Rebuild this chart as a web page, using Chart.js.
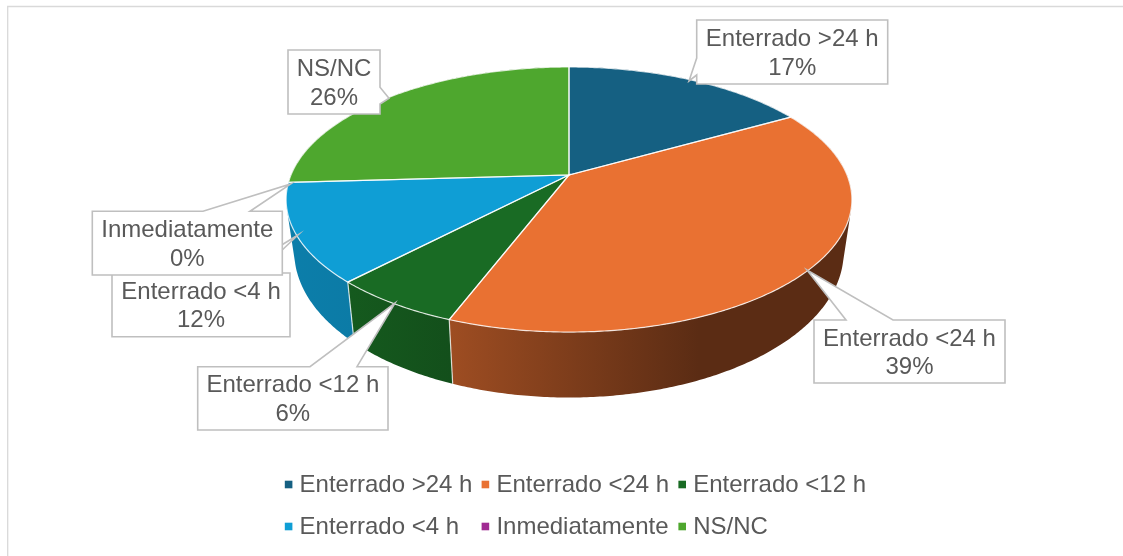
<!DOCTYPE html>
<html><head><meta charset="utf-8">
<style>html,body{margin:0;padding:0;background:#fff}canvas{display:block}</style>
<script src="https://cdn.jsdelivr.net/npm/chart.js@4"></script>
</head><body>
<canvas id="c" width="1123" height="556"></canvas>
<script>
const categories = ['Enterrado >24 h','Enterrado <24 h','Enterrado <12 h','Enterrado <4 h','Inmediatamente','NS/NC'];
const shares = [16.8,39,6.3,12,0,25.9];
const percentLabels = ['17%','39%','6%','12%','0%','26%'];
const sliceColors = ['#156082','#E97132','#196B24','#0F9ED5','#A02B93','#4EA72E'];

// wall shading: [brightness at left, brightness at right, fraction of width where the end is reached]
const wallShade = [[.6,.6,1],[.68,.39,.62],[.84,.74,1],[.8,.78,1],[.7,.7,1],[.7,.7,1]];
const textColor = '#595959', calloutLine = '#BFBFBF';
const FONT = '24px "Liberation Sans", Arial, sans-serif';

// perspective of the tilted disc
const TILT_K = 0.185;
const TOP = {scale:1, ry:128, dy:0};
const BOTTOM = {scale:0.971, ry:140.6, dy:50};
function proj(el, a, f){
  const u=Math.cos(a), v=Math.sin(a), w=1-TILT_K*v;
  return [el.x + el.outerRadius*f.scale*u/w, el.y + f.dy + f.ry*v/w];
}
function arcPts(el, a0, a1, f){
  const n=Math.max(2,Math.ceil(Math.abs(a1-a0)/0.01)), out=[];
  for(let i=0;i<=n;i++) out.push(proj(el,a0+(a1-a0)*i/n,f));
  return out;
}
function poly(ctx, pts, close){
  ctx.beginPath();
  pts.forEach((p,i)=> i?ctx.lineTo(p[0],p[1]):ctx.moveTo(p[0],p[1]));
  if(close) ctx.closePath();
}
function shade(hex,s){
  const n=parseInt(hex.slice(1),16);
  return `rgb(${Math.round((n>>16&255)*s)},${Math.round((n>>8&255)*s)},${Math.round((n&255)*s)})`;
}

// callout boxes [x0,y0,x1,y1] and their pointers, in data order
const callouts = [
  {box:[696.7,20,887.7,84],  ptr:[[696.7,58],[689,81],[696.7,75]]},
  {box:[814,320,1005,383],   ptr:[[846,320],[807,270],[893,320]]},
  {box:[197.7,366.7,388,430],ptr:[[310,366.7],[395,303],[357,366.7]]},
  {box:[112,273,290,336.7],  ptr:[[236,273],[298,235],[258,273]]},
  {box:[92.3,211.3,282.3,275],ptr:[[203,211.3],[290.7,184],[250,211.3]]},
  {box:[288,50,380,114],     ptr:[[380,87.3],[389,98.3],[380,104]]}
];
function calloutPath(ctx,c){
  const [x0,y0,x1,y1]=c.box,[p,t,q]=c.ptr;
  ctx.beginPath();
  ctx.moveTo(x0,y0);
  if(p[1]===y0){ctx.lineTo(p[0],p[1]);ctx.lineTo(t[0],t[1]);ctx.lineTo(q[0],q[1]);}
  ctx.lineTo(x1,y0);
  if(p[0]===x1&&p[1]!==y0){ctx.lineTo(p[0],p[1]);ctx.lineTo(t[0],t[1]);ctx.lineTo(q[0],q[1]);}
  ctx.lineTo(x1,y1);ctx.lineTo(x0,y1);
  if(p[0]===x0&&p[1]!==y0){ctx.lineTo(q[0],q[1]);ctx.lineTo(t[0],t[1]);ctx.lineTo(p[0],p[1]);}
  ctx.closePath();
}

const pieFrame = {
  id:'pieFrame',
  beforeDraw(chart){
    const ctx=chart.ctx;
    ctx.save();
    ctx.fillStyle='#fff';ctx.fillRect(0,0,chart.width,chart.height);
    ctx.strokeStyle='#D9D9D9';ctx.lineWidth=1.3;
    ctx.beginPath();ctx.moveTo(7.7,556);ctx.lineTo(7.7,6.5);ctx.lineTo(1123,6.5);ctx.stroke();
    ctx.restore();
  },
  beforeDatasetsDraw(chart){
    const ctx=chart.ctx, arcs=chart.getDatasetMeta(0).data;
    ctx.save();
    // side walls: strips between the upper and lower rim, filled as one path
    arcs.forEach((el,i)=>{
      if(el.endAngle-el.startAngle<=0) return;
      const top=arcPts(el,el.startAngle,el.endAngle,TOP);
      const bot=arcPts(el,el.startAngle,el.endAngle,BOTTOM);
      const xs=top.concat(bot).map(p=>p[0]), x0=Math.min(...xs), x1=Math.max(...xs);
      const g=ctx.createLinearGradient(x0,0,x1,0), s=wallShade[i];
      g.addColorStop(0,shade(sliceColors[i],s[0]));
      g.addColorStop(s[2],shade(sliceColors[i],s[1]));
      if(s[2]<1) g.addColorStop(1,shade(sliceColors[i],s[1]));
      ctx.fillStyle=g;
      ctx.beginPath();
      for(let k=0;k<top.length-1;k++){
        const A=top[k],B=top[k+1],C=bot[k+1],D=bot[k];
        const cross=(B[0]-A[0])*(C[1]-A[1])-(B[1]-A[1])*(C[0]-A[0]);
        const q=cross>=0?[A,B,C,D]:[D,C,B,A];
        q.forEach((p,j)=> j?ctx.lineTo(p[0],p[1]):ctx.moveTo(p[0],p[1]));
        ctx.closePath();
      }
      ctx.fill('nonzero');
    });
    // seams between walls on the front side
    ctx.strokeStyle='rgba(255,255,255,.75)';ctx.lineWidth=1.2;
    arcs.forEach(el=>{
      if(el.endAngle-el.startAngle<=0) return;
      if(Math.sin(el.endAngle)>0.1){
        poly(ctx,[proj(el,el.endAngle,TOP),proj(el,el.endAngle,BOTTOM)]);ctx.stroke();
      }
    });
    // top faces
    arcs.forEach(el=>{
      if(el.endAngle-el.startAngle<=0) return;
      const pts=[[el.x,el.y]].concat(arcPts(el,el.startAngle,el.endAngle,TOP));
      poly(ctx,pts,true);
      ctx.fillStyle=el.options.backgroundColor;ctx.fill();
    });
    // white edges on the top face
    ctx.strokeStyle='rgba(255,255,255,.8)';ctx.lineWidth=1.2;
    arcs.forEach(el=>{
      if(el.endAngle-el.startAngle<=0) return;
      poly(ctx,[proj(el,el.startAngle,TOP),[el.x,el.y],proj(el,el.endAngle,TOP)]);ctx.stroke();
      poly(ctx,arcPts(el,el.startAngle,el.endAngle,TOP));ctx.stroke();
    });
    ctx.restore();
    return false;
  },
  afterDraw(chart){
    const ctx=chart.ctx;
    ctx.save();
    ctx.font=FONT;ctx.textBaseline='middle';
    // callouts
    callouts.forEach((c,i)=>{
      calloutPath(ctx,c);
      ctx.fillStyle='#fff';ctx.fill();
      ctx.strokeStyle=calloutLine;ctx.lineWidth=1.6;ctx.lineJoin='miter';ctx.stroke();
      const cx=(c.box[0]+c.box[2])/2, cy=(c.box[1]+c.box[3])/2;
      ctx.fillStyle=textColor;ctx.textAlign='center';
      ctx.fillText(categories[i],cx,cy-12.5);
      ctx.fillText(percentLabels[i],cx,cy+16);
    });
    // legend grid
    ctx.textAlign='left';
    categories.forEach((name,i)=>{
      const col=i%3, row=Math.floor(i/3);
      const x=284.8+col*196.8, y=484.5+row*42;
      ctx.fillStyle=sliceColors[i];
      ctx.fillRect(x,y-3.8,7.6,7.6);
      ctx.fillStyle=textColor;
      ctx.fillText(name,x+14.8,y+1);
    });
    ctx.restore();
  }
};

new Chart(document.getElementById('c'),{
  type:'pie',
  data:{labels:categories,datasets:[{data:shares,backgroundColor:sliceColors,borderWidth:0,radius:278}]},
  options:{
    responsive:false,animation:false,
    layout:{padding:{left:15,right:0,top:0,bottom:206}},
    plugins:{legend:{display:false},tooltip:{enabled:false}}
  },
  plugins:[pieFrame]
});
</script>
</body></html>
